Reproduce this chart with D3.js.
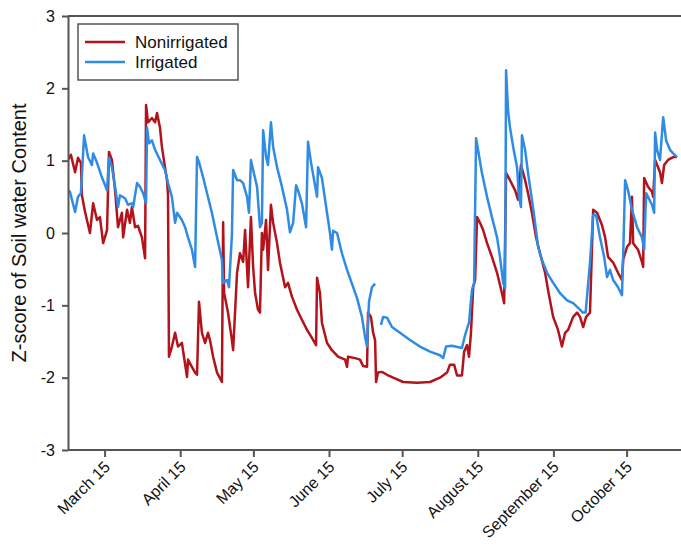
<!DOCTYPE html>
<html>
<head>
<meta charset="utf-8">
<script src="https://cdn.jsdelivr.net/npm/d3@7"></script>
<style>
  body { margin: 0; background: #fff; }
  text { font-family: "Liberation Sans", Arial, sans-serif; fill: #111; }
</style>
</head>
<body>
<div class="canvas"></div>
<script>
// day of year (2014) for each reading
const redDoy = [
  59.0, 60.2, 61.9, 63.1, 64.3, 64.7, 66.0, 68.0, 69.3, 70.9,
  72.1, 73.4, 75.0, 75.8, 77.0, 78.3, 79.5, 81.1, 81.6, 83.2,
  84.4, 85.2, 86.5, 87.7, 89.3, 90.6, 91.0, 91.8, 93.4, 94.7,
  95.5, 96.7, 97.5, 98.8, 99.6, 100.0, 100.4, 101.6, 102.9, 104.1,
  105.7, 107.8, 108.2, 109.8, 111.1, 111.9, 112.7, 113.9, 115.2, 116.4,
  117.2, 118.5, 120.1, 122.1, 122.6, 123.0, 124.6, 126.2, 126.7, 128.3,
  129.5, 130.8, 131.6, 132.8, 134.0, 134.9, 135.7, 136.9, 137.7, 138.5,
  139.0, 140.2, 141.0, 142.2, 143.1, 144.7, 145.9, 148.0, 149.2, 150.8,
  152.9, 154.9, 157.0, 159.0, 160.7, 161.1, 162.3, 163.1, 165.2, 167.2,
  169.7, 172.6, 173.4, 173.8, 176.7, 178.7, 180.0, 181.6, 182.0, 183.2,
  184.1, 184.9, 185.3, 186.1, 187.7, 189.8, 192.3, 196.4, 202.1, 207.4,
  211.5, 214.4, 215.6, 217.3, 218.5, 220.5, 221.4, 222.6, 223.4, 224.2,
  225.1, 225.9, 226.7, 227.9, 229.2, 230.8, 232.8, 234.9, 236.9, 237.8,
  238.6, 240.2, 242.3, 243.5, 244.7, 246.4, 247.6, 249.2, 250.9, 252.5,
  254.6, 255.8, 257.9, 259.9, 261.5, 262.8, 264.0, 266.1, 267.7, 268.9,
  270.2, 271.4, 273.0, 274.3, 275.9, 277.9, 279.2, 280.4, 282.5, 284.5,
  286.1, 286.6, 288.2, 289.4, 290.2, 290.7, 292.7, 294.3, 294.8, 295.2,
  296.8, 298.4, 298.9, 299.7, 300.9, 301.7, 302.5, 303.4, 305.0, 307.1,
  308.7
];
const redVal = [
  1.01, 1.08, 0.84, 1.04, 0.97, 0.52, 0.29, 0.00, 0.41, 0.18,
  0.22, -0.14, 0.04, 1.12, 1.01, 0.59, 0.08, 0.28, -0.06, 0.32,
  0.14, 0.36, 0.08, 0.10, -0.06, -0.35, 1.77, 1.53, 1.59, 1.53,
  1.66, 1.46, 1.19, 0.90, 0.73, 0.52, -1.71, -1.57, -1.38, -1.57,
  -1.52, -1.99, -1.75, -1.85, -1.93, -1.96, -0.95, -1.38, -1.52, -1.38,
  -1.48, -1.71, -1.93, -2.06, 0.15, -0.83, -1.10, -1.48, -1.62, -0.55,
  -0.28, -0.40, 0.04, -0.75, 0.22, -0.47, -0.83, -1.06, -1.10, 0.00,
  -0.23, 0.18, -0.51, 0.39, 0.14, -0.14, -0.41, -0.75, -0.69, -0.88,
  -1.06, -1.20, -1.34, -1.45, -1.55, -0.62, -0.83, -1.24, -1.52, -1.62,
  -1.71, -1.75, -1.85, -1.71, -1.73, -1.75, -1.84, -1.85, -1.10, -1.16,
  -1.38, -1.48, -2.06, -1.93, -1.92, -1.96, -2.00, -2.06, -2.07, -2.06,
  -2.00, -1.93, -1.82, -1.82, -1.97, -1.97, -1.64, -1.55, -1.71, -1.38,
  -0.75, -0.65, 0.22, 0.14, 0.04, -0.14, -0.33, -0.55, -0.83, -0.97,
  0.83, 0.73, 0.59, 0.46, 0.94, 0.73, 0.55, 0.28, -0.06, -0.28,
  -0.55, -0.79, -1.16, -1.34, -1.57, -1.38, -1.34, -1.16, -1.10, -1.16,
  -1.30, -1.16, -1.10, 0.32, 0.28, 0.11, -0.06, -0.33, -0.41, -0.55,
  -0.65, -0.37, -0.19, -0.14, 0.50, -0.14, -0.23, -0.40, -0.47, 0.76,
  0.64, 0.57, 0.50, 1.01, 0.91, 0.84, 0.69, 0.94, 1.01, 1.05,
  1.05
];

const blueDoy = [
  59.0, 59.8, 61.9, 63.1, 64.3, 65.6, 67.2, 68.8, 69.3, 70.9,
  72.9, 75.0, 75.8, 77.0, 78.3, 79.5, 80.3, 82.4, 83.6, 85.2,
  85.7, 87.3, 88.5, 89.8, 91.0, 91.4, 92.2, 93.4, 94.7, 96.7,
  98.8, 100.0, 101.6, 102.9, 103.7, 105.7, 107.0, 108.2, 109.8, 111.1,
  111.9, 112.7, 114.4, 116.0, 118.0, 120.1, 122.1, 122.6, 124.2, 125.0,
  126.2, 126.7, 128.3, 129.5, 130.8, 132.4, 133.2, 134.0, 134.9, 136.5,
  137.7, 138.5, 139.0, 140.2, 141.0, 142.2, 143.1, 144.7, 146.7, 148.8,
  150.0, 151.3, 152.5, 153.3, 154.9, 156.6, 157.4, 158.6, 159.9, 161.1,
  161.5, 163.1, 164.4, 166.4, 167.2, 167.7, 169.3, 171.3, 173.4, 175.4,
  177.5, 179.5, 180.8, 181.6, 182.4, 183.6, 184.9, 186.0, 187.3, 188.2,
  189.8, 191.8, 195.1, 199.2, 203.3, 207.4, 211.5, 212.8, 214.0, 216.4,
  220.5, 221.8, 223.4, 224.6, 225.5, 226.3, 227.1, 228.7, 230.8, 232.8,
  234.9, 236.1, 237.4, 238.2, 238.6, 239.4, 240.2, 241.5, 243.1, 243.9,
  244.7, 245.1, 246.4, 247.6, 249.2, 250.5, 251.7, 253.3, 255.4, 257.9,
  260.7, 263.6, 266.1, 268.9, 270.0, 271.2, 273.0, 274.3, 275.5, 277.1,
  278.8, 280.0, 281.2, 282.5, 284.5, 286.1, 286.6, 287.4, 288.6, 290.2,
  292.3, 294.3, 295.2, 296.0, 296.8, 298.4, 299.3, 299.7, 300.5, 301.7,
  303.0, 304.2, 305.8, 307.1, 308.7
];
// null = missing readings (gap in the irrigated record)
const blueVal = [
  0.59, 0.57, 0.29, 0.50, 0.55, 1.35, 1.05, 0.94, 1.10, 0.97,
  0.77, 0.59, 1.04, 0.91, 0.64, 0.36, 0.52, 0.48, 0.39, 0.41,
  0.36, 0.69, 0.64, 0.55, 0.41, 1.46, 1.24, 1.28, 1.15, 1.01,
  0.87, 0.69, 0.50, 0.14, 0.28, 0.18, 0.08, -0.06, -0.23, -0.47,
  1.05, 0.98, 0.77, 0.55, 0.28, -0.06, -0.37, -0.69, -0.65, -0.75,
  -0.03, 0.87, 0.73, 0.73, 0.69, 0.50, 0.28, 1.01, 0.87, 0.64,
  0.08, 0.14, 1.42, 1.05, 0.94, 1.53, 1.19, 0.91, 0.64, 0.32,
  0.01, 0.14, 0.66, 0.59, 0.41, 0.08, 1.26, 0.98, 0.73, 0.50,
  0.91, 0.76, 0.46, 0.00, -0.23, 0.03, 0.00, -0.28, -0.51, -0.70,
  -0.90, -1.16, -1.44, -1.57, -0.95, -0.75, -0.70, null, -1.27, -1.16,
  -1.17, -1.30, -1.38, -1.48, -1.57, -1.64, -1.69, -1.73, -1.57, -1.56,
  -1.59, -1.41, -1.24, -0.79, -0.69, 1.31, 1.15, 0.83, 0.50, 0.22,
  -0.06, -0.33, -0.69, -0.76, 2.25, 1.70, 1.46, 1.19, 0.91, 0.50,
  0.36, 1.35, 1.15, 0.83, 0.46, 0.14, -0.19, -0.37, -0.55, -0.69,
  -0.83, -0.93, -0.97, -1.06, -1.10, -1.10, -0.41, 0.25, 0.25, -0.06,
  -0.33, -0.61, -0.51, -0.65, -0.75, -0.86, -0.33, 0.73, 0.59, 0.32,
  0.08, -0.06, -0.23, 0.55, 0.50, 0.39, 0.28, 1.39, 1.15, 1.01,
  1.60, 1.28, 1.15, 1.10, 1.05
];

const seriesNames = ['Nonirrigated', 'Irrigated'];
const seriesColors = ['#b3131b', '#2f8be3'];
const tickDates = ['2014-03-15', '2014-04-15', '2014-05-15', '2014-06-15',
                   '2014-07-15', '2014-08-15', '2014-09-15', '2014-10-15'];
const tickLabels = ['March 15', 'April 15', 'May 15', 'June 15',
                    'July 15', 'August 15', 'September 15', 'October 15'];
const yTicks = [-3, -2, -1, 0, 1, 2, 3];

const dims = { width: 681, height: 548 };
const plot = { left: 68, top: 16, right: 690, bottom: 450 };

const doyDate = doy => new Date(Date.UTC(2014, 0, 1) + (doy - 1) * 864e5);
const parse = d3.utcParse('%Y-%m-%d');

const svg = d3.select('.canvas')
  .append('svg')
  .attr('width', dims.width)
  .attr('height', dims.height);

const x = d3.scaleUtc()
  .domain([doyDate(59), doyDate(314)])
  .range([plot.left, plot.right]);

const y = d3.scaleLinear()
  .domain([-3, 3])
  .range([plot.bottom, plot.top]);

svg.append('clipPath').attr('id', 'clip')
  .append('rect')
  .attr('x', plot.left).attr('y', plot.top)
  .attr('width', plot.right - plot.left).attr('height', plot.bottom - plot.top);

// lines
const line = d3.line()
  .defined(d => d.v !== null)
  .x(d => x(d.date))
  .y(d => y(d.v));

const series = [
  redDoy.map((d, i) => ({ date: doyDate(d), v: redVal[i] })),
  blueDoy.map((d, i) => ({ date: doyDate(d), v: blueVal[i] }))
];

svg.append('g')
  .attr('clip-path', 'url(#clip)')
  .selectAll('path')
  .data(series)
  .enter()
  .append('path')
    .attr('d', line)
    .attr('fill', 'none')
    .attr('stroke', (d, i) => seriesColors[i])
    .attr('stroke-width', 2.5)
    .attr('stroke-linejoin', 'round');

// top frame line
svg.append('line')
  .attr('x1', plot.left).attr('x2', dims.width)
  .attr('y1', plot.top).attr('y2', plot.top)
  .attr('stroke', '#555').attr('stroke-width', 2);

// axes
const xAxis = svg.append('g')
  .attr('transform', `translate(0, ${plot.bottom})`)
  .call(d3.axisBottom(x)
    .tickValues(tickDates.map(parse))
    .tickSize(7)
    .tickSizeOuter(0)
    .tickFormat((d, i) => tickLabels[i]));

xAxis.selectAll('text')
  .attr('x', 0).attr('y', 0).attr('dy', '0.35em')
  .attr('transform', 'translate(2, 14) rotate(-45)')
  .style('text-anchor', 'end')
  .style('font-size', '16px');

const yAxis = svg.append('g')
  .attr('transform', `translate(${plot.left}, 0)`)
  .call(d3.axisLeft(y)
    .tickValues(yTicks)
    .tickSize(6)
    .tickSizeOuter(0)
    .tickPadding(7)
    .tickFormat(d => String(d)));

yAxis.selectAll('text').style('font-size', '16px');

svg.selectAll('.domain, .tick line')
  .attr('stroke', '#555')
  .attr('stroke-width', 2);

xAxis.select('.domain').attr('d', `M${plot.left},0H${dims.width}`);

// y title
svg.append('text')
  .attr('transform', `translate(26, ${(plot.top + plot.bottom) / 2}) rotate(-90)`)
  .attr('text-anchor', 'middle')
  .style('font-size', '20px')
  .text('Z-score of Soil water Content');

// legend
const legend = svg.append('g');
legend.append('rect')
  .attr('x', 78).attr('y', 24)
  .attr('width', 160).attr('height', 56)
  .attr('fill', 'none')
  .attr('stroke', '#555')
  .attr('stroke-width', 1.5);

const items = legend.selectAll('g.item')
  .data(seriesNames)
  .enter()
  .append('g')
    .attr('class', 'item')
    .attr('transform', (d, i) => `translate(85, ${42 + i * 20})`);

items.append('line')
  .attr('x1', 0).attr('x2', 40)
  .attr('stroke', (d, i) => seriesColors[i])
  .attr('stroke-width', 2.5);

items.append('text')
  .attr('x', 50)
  .attr('dy', '0.35em')
  .style('font-size', '17px')
  .text(d => d);
</script>
</body>
</html>
